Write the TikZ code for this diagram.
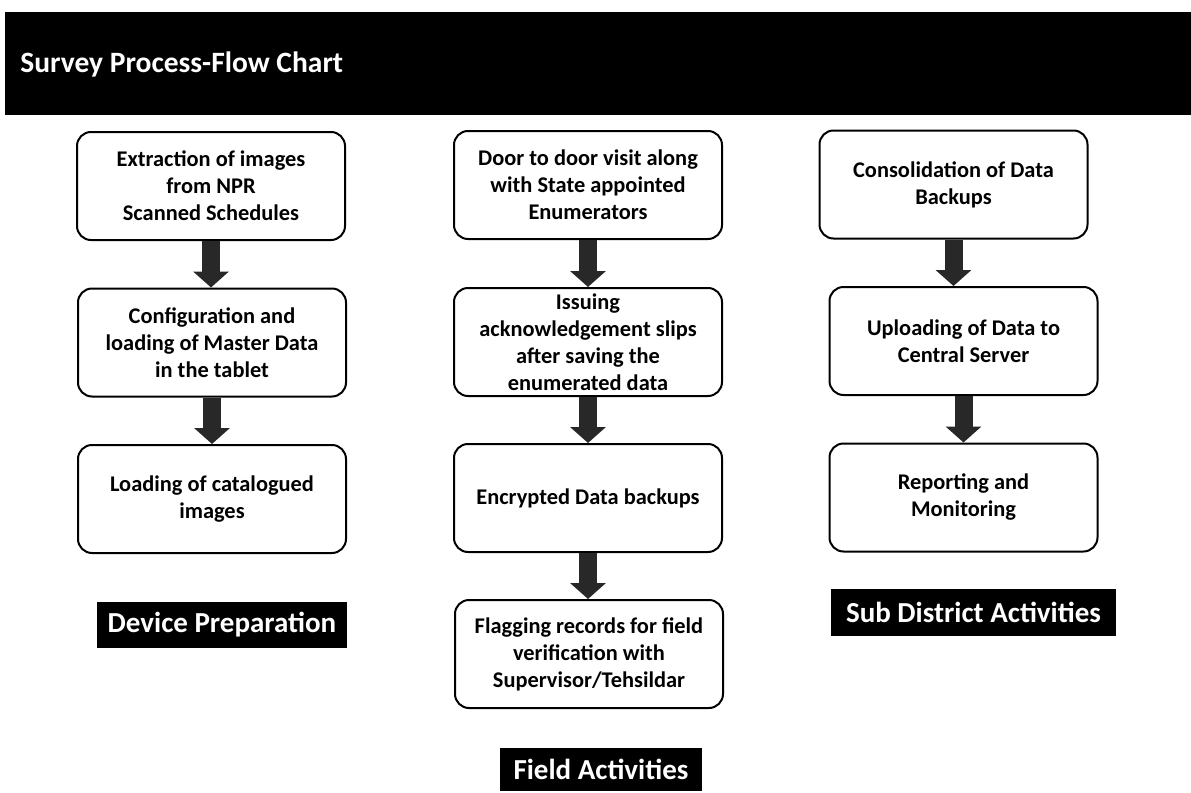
\documentclass[tikz,border=0pt]{standalone}
\usepackage{fontspec}
\setmainfont{Carlito}
\usetikzlibrary{arrows.meta}

\begin{document}
\begin{tikzpicture}[x=0.5pt, y=-0.5pt,
    proc_box/.style={draw=black, line width=1pt, rounded corners=7pt, fill=white,
        minimum width=134pt, minimum height=54pt, inner sep=0pt, align=center,
        font=\bfseries\fontsize{11.2}{13.5}\selectfont},
    tag_box/.style={fill=black, text=white, inner sep=0pt, align=center,
        font=\bfseries\fontsize{14.5}{17}\selectfont},
    flow_arrow/.style={draw=arrow_grey, line width=9pt,
        -{Triangle[width=17.5pt, length=8pt]}}]

    % Define colors
    \definecolor{arrow_grey}{RGB}{40, 40, 40}

    \useasboundingbox (0,0) rectangle (1191,793);

    % Title bar
    \fill[black] (5,12) rectangle (1191,115);
    \node[anchor=base west, text=white, inner sep=0pt,
        font=\bfseries\fontsize{14.75}{17}\selectfont] (title) at (20,72) {Survey Process-Flow Chart};

    % Device preparation
    \node[proc_box] (D1) at (211,186) {Extraction of images\\from NPR\\Scanned Schedules};
    \node[proc_box] (D2) at (212,342.5) {Configuration and\\loading of Master Data\\in the tablet};
    \node[proc_box] (D3) at (212,499) {Loading of catalogued\\images};
    \node[tag_box, minimum width=125pt, minimum height=23pt] (D_tag) at (222,625) {Device Preparation};

    \draw[flow_arrow] (D1.south) -- (D1.south |- D2.north);
    \draw[flow_arrow] (D2.south) -- (D2.south |- D3.north);

    % Field activities
    \node[proc_box] (F1) at (588,185) {Door to door visit along\\with State appointed\\Enumerators};
    \node[proc_box] (F2) at (588,342) {Issuing\\acknowledgement slips\\after saving the\\enumerated data};
    \node[proc_box] (F3) at (588,498) {Encrypted Data backups};
    \node[proc_box] (F4) at (589,654) {Flagging records for field\\verification with\\Supervisor/Tehsildar};
    \node[tag_box, minimum width=101pt, minimum height=21.5pt] (F_tag) at (601,769.5) {Field Activities};

    \draw[flow_arrow] (F1.south) -- (F1.south |- F2.north);
    \draw[flow_arrow] (F2.south) -- (F2.south |- F3.north);
    \draw[flow_arrow] (F3.south) -- (F3.south |- F4.north);

    % Sub district activities
    \node[proc_box] (S1) at (953.5,184.5) {Consolidation of Data\\Backups};
    \node[proc_box] (S2) at (963.5,341) {Uploading of Data to\\Central Server};
    \node[proc_box] (S3) at (963.5,497.5) {Reporting and\\Monitoring};
    \node[tag_box, minimum width=142.5pt, minimum height=23.5pt] (S_tag) at (973.5,612.5) {Sub District Activities};

    \draw[flow_arrow] (S1.south) -- (S1.south |- S2.north);
    \draw[flow_arrow] (S2.south) -- (S2.south |- S3.north);

\end{tikzpicture}
\end{document}
